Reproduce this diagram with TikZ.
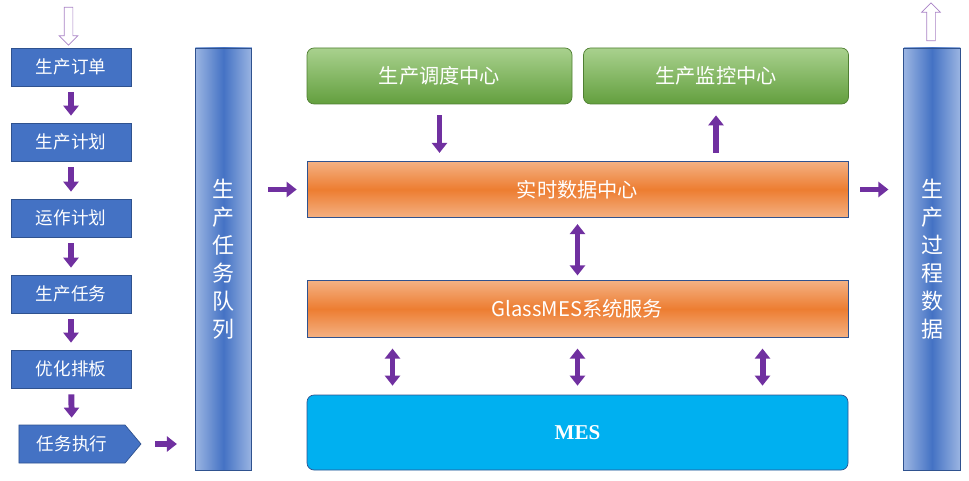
\documentclass[tikz,border=0pt]{standalone}
\usepackage{fontspec}
\setmainfont{Noto Sans CJK SC}
\newfontfamily\mesfont{Liberation Serif}
\usetikzlibrary{arrows.meta,positioning,shapes.arrows,shapes.symbols}
\definecolor{boxblue}{HTML}{4472C4}
\definecolor{edgeblue}{HTML}{2F528F}
\definecolor{barlight}{HTML}{9BB5E2}
\definecolor{flowpurple}{HTML}{7030A0}
\definecolor{greenlight}{HTML}{A9D18E}
\definecolor{greendark}{HTML}{639F3E}
\definecolor{orangelight}{HTML}{F4B183}
\definecolor{orangedark}{HTML}{ED7D31}
\definecolor{mescyan}{HTML}{00B0F0}
\tikzset{
    % Box styles
    step box/.style={
        draw=edgeblue,
        fill=boxblue,
        text=white,
        minimum width=2.4cm,
        minimum height=0.76cm,
        font=\fontsize{10}{10}\selectfont
    },
    side bar/.style={
        draw=edgeblue,
        left color=barlight,
        right color=barlight,
        middle color=boxblue,
        text=white,
        minimum width=1.13cm,
        minimum height=8.44cm,
        align=center,
        font=\fontsize{12.5}{16}\selectfont
    },
    center box/.style={
        draw=edgeblue,
        top color=orangelight,
        bottom color=orangelight,
        middle color=orangedark,
        text=white,
        minimum width=10.82cm,
        minimum height=1.13cm,
        font=\fontsize{11.5}{12}\selectfont
    },
    green box/.style={
        draw=greendark!80!black,
        top color=greenlight,
        bottom color=greendark,
        text=white,
        rounded corners=4pt,
        minimum width=5.3cm,
        minimum height=1.12cm,
        font=\fontsize{11.5}{12}\selectfont
    },
    hollow arrow/.style={
        single arrow,
        draw=flowpurple!60,
        fill=white,
        minimum height=0.76cm,
        minimum width=0.36cm,
        single arrow head extend=0.1cm,
        inner sep=0.08cm
    },
    % Arrow styles
    fat arrow/.style={
        -{Triangle[length=2mm,width=3mm]},
        line width=3.4pt,
        flowpurple
    },
    fat both/.style={
        {Triangle[length=2mm,width=3mm]}-{Triangle[length=2mm,width=3mm]},
        line width=3.4pt,
        flowpurple
    }
}
\begin{document}
\begin{tikzpicture}
    \useasboundingbox (0,0) rectangle (19.38,-9.62);

    % Left process chain
    \foreach \i/\y/\name in {1/-1.34/生产订单,2/-2.84/生产计划,3/-4.36/运作计划,4/-5.88/生产任务,5/-7.38/优化排板} {
        \node[step box] (step\i) at (1.42,\y) {\name};
    }
    \node[step box, signal, signal to=east, signal pointer angle=100, minimum width=2.44cm,
        inner xsep=0pt] (step6) at (1.44,-8.88) {任务执行};

    \foreach \i [evaluate=\i as \j using int(\i+1)] in {1,...,5} {
        \draw[fat arrow, shorten <=0.12cm, shorten >=0.14cm] (step\i) -- (step\j);
    }

    \node[hollow arrow, rotate=-90] (input) at (1.37,-0.48) {};
    \node[hollow arrow, rotate=90] (output) at (18.62,-0.48) {};

    % Bars
    \node[side bar] (queue) at (4.47,-5.18) {生\\产\\任\\务\\队\\列};
    \node[side bar] (process) at (18.64,-5.18) {生\\产\\过\\程\\数\\据};

    % Center layers
    \node[green box] (dispatch) at (8.79,-1.52) {生产调度中心};
    \node[green box] (monitor) at (14.32,-1.52) {生产监控中心};
    \node[center box] (realtime) at (11.55,-3.79) {实时数据中心};
    \node[center box] (glass) at (11.55,-6.18) {GlassMES系统服务};
    \node[draw=edgeblue, fill=mescyan, rounded corners=4pt, minimum width=10.82cm,
        minimum height=1.5cm, text=white, font=\mesfont\bfseries\fontsize{12}{12}\selectfont]
        (mes) at (11.55,-8.65) {MES};

    % Connections
    \draw[fat arrow, shorten <=0.28cm, shorten >=0.36cm] (step6.east) -- (step6.east -| queue.west);
    \draw[fat arrow, shorten <=0.32cm, shorten >=0.2cm] (queue.east |- realtime.west) -- (realtime.west);
    \draw[fat arrow, shorten <=0.24cm, shorten >=0.3cm] (realtime.east) -- (realtime.east -| process.west);
    \draw[fat arrow, shorten <=0.22cm, shorten >=0.16cm] (dispatch.south) -- (dispatch.south |- realtime.north);
    \draw[fat arrow, shorten <=0.16cm, shorten >=0.22cm] (monitor.south |- realtime.north) -- (monitor.south);
    \draw[fat both, shorten <=0.12cm, shorten >=0.1cm] (realtime.south) -- (glass.north);
    \foreach \dx in {-3.7,0,3.7} {
        \draw[fat both, shorten <=0.22cm, shorten >=0.18cm]
            ([xshift=\dx cm]glass.south) -- ([xshift=\dx cm]mes.north);
    }
\end{tikzpicture}
\end{document}
